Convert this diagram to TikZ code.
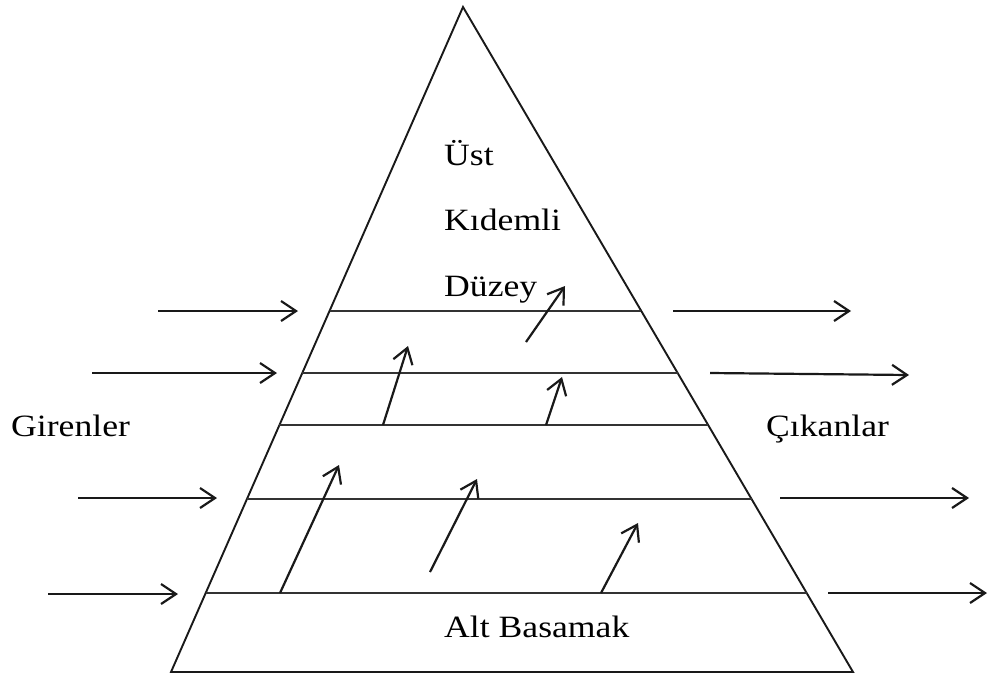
\documentclass[tikz,border=0pt]{standalone}
\usepackage{fontspec}
\setmainfont{Liberation Serif}[FakeStretch=1.15]
\usetikzlibrary{arrows.meta,calc}
\begin{document}
\begin{tikzpicture}[x=1pt,y=-1pt,
  edge/.style={line width=1.9pt,black!90},
  level/.style={line width=2pt,black!80},
  flow/.style={line width=2.2pt,black!90,-{Straight Barb[length=15pt,width=20pt,line width=2.2pt]}},
  lbl/.style={inner sep=0pt,anchor=base west,font=\fontsize{31}{36}\selectfont}]
\useasboundingbox (0,0) rectangle (990,675);
% pyramid
\coordinate (apex) at (463,7);
\coordinate (bl) at (171,672);
\coordinate (br) at (853,672);
\draw[edge] (bl) -- (apex) -- (br) -- cycle;
% levels
\foreach \n/\y in {1/311,2/373,3/425,4/499,5/593}{
  \coordinate (L\n) at ($(apex)!{(\y-7)/665}!(bl)$);
  \coordinate (R\n) at ($(apex)!{(\y-7)/665}!(br)$);
  \draw[level] (L\n) -- (R\n);
}
% labels
\node[lbl] (ust) at (444,165) {Üst};
\node[lbl] (kid) at (444,230) {Kıdemli};
\node[lbl] (duz) at (444,296) {Düzey};
\node[lbl] (gir) at (11,436) {Girenler};
\node[lbl] (cik) at (766,436) {Çıkanlar};
\node[lbl] (alt) at (444,637) {Alt Basamak};
% incoming arrows
\coordinate (ia1) at (158,311); \coordinate (ib1) at (298,311);
\coordinate (ia2) at (92,373);  \coordinate (ib2) at (277,373);
\coordinate (ia3) at (78,498);  \coordinate (ib3) at (217,498);
\coordinate (ia4) at (48,594);  \coordinate (ib4) at (178,594);
\foreach \n in {1,...,4}{\draw[flow] (ia\n) -- (ib\n);}
% outgoing arrows
\coordinate (oa1) at (673,311); \coordinate (ob1) at (851,311);
\coordinate (oa2) at (710,373); \coordinate (ob2) at (909,375);
\coordinate (oa3) at (780,498); \coordinate (ob3) at (969,498);
\coordinate (oa4) at (828,593); \coordinate (ob4) at (987,593);
\foreach \n in {1,...,4}{\draw[flow] (oa\n) -- (ob\n);}
% promotions
\coordinate (pa1) at (526,342); \coordinate (pb1) at (565,286);
\coordinate (pa2) at (383,425); \coordinate (pb2) at (408,346);
\coordinate (pa3) at (546,425); \coordinate (pb3) at (562,377);
\coordinate (pa4) at (280,593); \coordinate (pb4) at (339,465);
\coordinate (pa5) at (430,572); \coordinate (pb5) at (477,479);
\coordinate (pa6) at (601,593); \coordinate (pb6) at (638,523);
\foreach \n in {1,...,6}{\draw[flow] (pa\n) -- (pb\n);}
\end{tikzpicture}
\end{document}
